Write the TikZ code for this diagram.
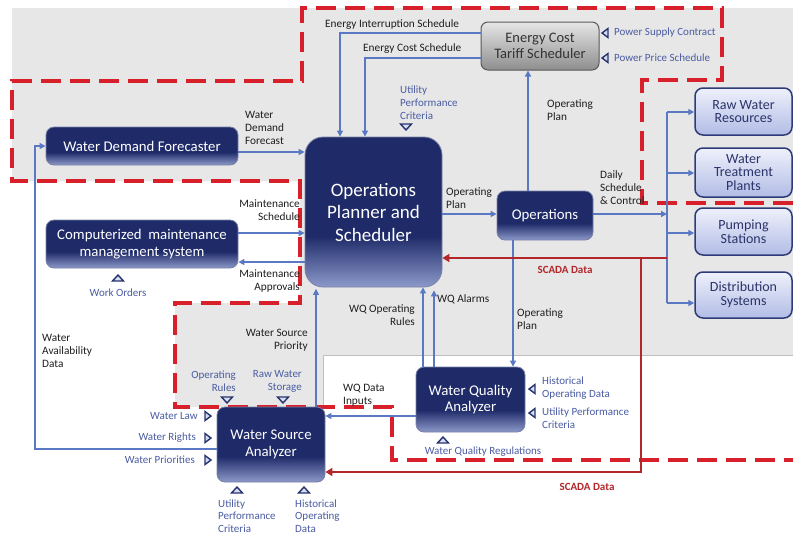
\documentclass[tikz,border=0pt]{standalone}
\usepackage{fontspec}
\setmainfont{Carlito}
\usetikzlibrary{arrows.meta}
\definecolor{bgray}{HTML}{E7E7E7}
\definecolor{navyD}{HTML}{1F2B69}
\definecolor{navyL}{HTML}{8C99C9}
\definecolor{connc}{HTML}{5A78C4}
\definecolor{rdash}{HTML}{D8202A}
\definecolor{scadac}{HTML}{B3262A}
\definecolor{lblc}{HTML}{1E1E1E}
\definecolor{inlblc}{HTML}{4A5CA3}
\definecolor{trifillc}{HTML}{D6DCF0}
\definecolor{trilinec}{HTML}{27336E}
\definecolor{lavT}{HTML}{EEF0FB}
\definecolor{lavB}{HTML}{B2BDE6}
\definecolor{lavline}{HTML}{2E3B78}
\definecolor{lavtext}{HTML}{2B3468}
\definecolor{grT}{HTML}{E6E6E6}
\definecolor{grB}{HTML}{8E8E8E}
\pgfdeclareverticalshading{navyshade}{100bp}{color(0bp)=(navyL); color(25bp)=(navyL); color(42bp)=(navyD); color(100bp)=(navyD)}
\tikzset{
  navybox/.style={rounded corners=8pt, shading=navyshade, draw=navyD!60!white, line width=0.8pt,
    text=white, align=center, font=\fontsize{14.8}{16.5}\selectfont, inner sep=2pt},
  lavbox/.style={rounded corners=8pt, top color=lavT, bottom color=lavB, draw=lavline, line width=1.5pt,
    text=lavtext, align=center, font=\fontsize{14}{13.8}\selectfont, inner sep=1pt, minimum width=97pt},
  graybox/.style={rounded corners=7pt, top color=grT, bottom color=grB, draw=black!65, line width=1pt,
    text=black!80, align=center, font=\fontsize{14.5}{16.5}\selectfont, inner sep=1pt},
  lab/.style={text=lblc, font=\fontsize{11.3}{13}\selectfont, inner sep=0pt, align=left},
  inl/.style={text=inlblc, font=\fontsize{11}{13}\selectfont, inner sep=0pt, align=left},
  scadalbl/.style={text=scadac, font=\bfseries\fontsize{11}{13}\selectfont, inner sep=0pt},
  connline/.style={draw=connc, line width=1.4pt},
  conn/.style={connline, -{Triangle[length=6pt,width=6pt]}},
  scadaline/.style={draw=scadac, line width=2.8pt, -{Triangle[length=7pt,width=8pt]}},
  reddash/.style={draw=rdash, line width=3.2pt, dash pattern=on 20pt off 9pt},
  trimark/.style={draw=trilinec, fill=trifillc, line width=1.4pt},
  triD/.pic={\draw[trimark] (-5.5,-3) -- (5.5,-3) -- (0,3) -- cycle;},
  triU/.pic={\draw[trimark] (-5.5,3) -- (5.5,3) -- (0,-3) -- cycle;},
  triL/.pic={\draw[trimark] (3,-4.5) -- (3,4.5) -- (-3,0) -- cycle;},
  triR/.pic={\draw[trimark] (-3,-4.5) -- (-3,4.5) -- (3,0) -- cycle;}
}
\begin{document}
\begin{tikzpicture}[x=1pt,y=-1pt]
\useasboundingbox (0,0) rectangle (793,536);
\fill[white] (0,0) rectangle (793,536);
% gray background
\fill[bgray] (12,8) -- (793,8) -- (793,355) -- (323,355) -- (323,407) -- (175,407) -- (175,303)
  -- (300,303) -- (300,181) -- (12,181) -- cycle;
\draw[black!25, line width=0.8pt] (793,355) -- (323,355) -- (323,407);
% red dashed boundary
\draw[reddash] (793,203) -- (642,203) -- (642,80) -- (722,80) -- (722,8) -- (302,8) -- (302,81)
  -- (12,81) -- (12,181) -- (300,181) -- (300,303) -- (175,303) -- (175,407) -- (392,407)
  -- (392,460) -- (793,460);

% boxes
\node[navybox, minimum width=192pt, minimum height=38pt] (wdf) at (142,146) {Water Demand Forecaster};
\node[navybox, minimum width=192pt, minimum height=48pt] (cmms) at (142,244) {Computerized\ \ maintenance\\management system};
\node[navybox, rounded corners=18pt, minimum width=137pt, minimum height=150pt,
  font=\fontsize{19}{22.5}\selectfont] (plan) at (373.5,212) {Operations\\Planner and\\Scheduler};
\node[graybox, minimum width=118pt, minimum height=48pt] (ecs) at (540,46) {Energy Cost\\Tariff Scheduler};
\node[navybox, minimum width=96pt, minimum height=49pt] (ops) at (545,215.5) {Operations};
\node[lavbox, minimum height=47pt] (rw) at (743.5,111.5) {Raw Water\\Resources};
\node[lavbox, minimum height=49pt] (wtp) at (743.5,172.5) {Water\\Treatment\\Plants};
\node[lavbox, minimum height=47pt] (ps) at (743.5,231.5) {Pumping\\Stations};
\node[lavbox, minimum height=46pt] (ds) at (743.5,295) {Distribution\\Systems};
\node[navybox, minimum width=109pt, minimum height=65pt] (wqa) at (470.5,399.5) {Water Quality\\Analyzer};
\node[navybox, minimum width=108pt, minimum height=75pt] (wsa) at (271,444.5) {Water Source\\Analyzer};

% connectors
\draw[conn] (ecs.west |- 0,33) -- (340,33) -- (plan.north -| 340,0);
\draw[conn] (ecs.west |- 0,58) -- (365,58) -- (plan.north -| 365,0);
\draw[conn] (ops.north -| 528,0) -- (ecs.south -| 528,0);
\draw[conn] (wdf.east |- 0,152) -- (plan.west |- 0,152);
\draw[conn] (cmms.east |- 0,233) -- (plan.west |- 0,233);
\draw[conn] (plan.west |- 0,262) -- (cmms.east |- 0,262);
\draw[conn] (plan.east |- 0,214) -- (ops.west |- 0,214);
\coordinate (bus1) at (667,112);
\coordinate (bus2) at (667,173);
\coordinate (bus3) at (667,233);
\coordinate (bus4) at (667,303);
\coordinate (busm) at (667,214);
\draw[connline] (bus1) -- (bus4);
\draw[conn] (ops.east |- busm) -- (busm);
\draw[conn] (bus1) -- (rw.west |- bus1);
\draw[conn] (bus2) -- (wtp.west |- bus2);
\draw[conn] (bus3) -- (ps.west |- bus3);
\draw[conn] (bus4) -- (ds.west |- bus4);
\draw[conn] (ops.south -| 513,0) -- (wqa.north -| 513,0);
\draw[conn] (wqa.north -| 423,0) -- (plan.south -| 423,0);
\draw[conn, shorten >=3pt] (wqa.north -| 434,0) -- (plan.south -| 434,0);
\draw[conn] (wqa.west |- 0,416) -- (wsa.east |- 0,416);
\draw[conn, shorten >=1.5pt] (wsa.north -| 316,0) -- (plan.south -| 316,0);
\draw[conn] (wsa.west |- 0,449) -- (35,449) -- (35,146) -- (wdf.west |- 0,146);
% SCADA
\coordinate (scA) at (667,258);
\coordinate (scB) at (641,258);
\draw[scadaline] (scA) -- (plan.east |- scA);
\draw[scadaline] (scB) -- (641,472) -- (wsa.east |- 0,472);

% connector labels
\node[lab, anchor=west] (l1) at (325,25) {Energy Interruption Schedule};
\node[lab, anchor=west] (l2) at (363,49) {Energy Cost Schedule};
\node[lab, anchor=west] (l3) at (547,110) {Operating\\Plan};
\node[lab, anchor=west] (l5) at (245,128) {Water\\Demand\\Forecast};
\node[lab, anchor=east, align=right] (l6) at (300,210) {Maintenance\\Schedule};
\node[lab, anchor=east, align=right] (l7) at (300,281) {Maintenance\\Approvals};
\node[lab, anchor=west] (l9) at (446,198) {Operating\\Plan};
\node[lab, anchor=west] (l10) at (600,188) {Daily\\Schedule\\\& Control};
\node[scadalbl] (l11) at (565,270) {SCADA Data};
\node[scadalbl] (l12) at (587,487) {SCADA Data};
\node[lab, anchor=west] (l13) at (517,319) {Operating\\Plan};
\node[lab, anchor=east, align=right] (l14) at (415,315) {WQ Operating\\Rules};
\node[lab, anchor=west] (l15) at (437,299) {WQ Alarms};
\node[lab, anchor=west] (l16) at (343,395) {WQ Data\\Inputs};
\node[lab, anchor=east, align=right] (l17) at (308,340) {Water Source\\Priority};
\node[lab, anchor=west] (l18) at (42,351) {Water\\Availability\\Data};

% inputs
\node[inl, anchor=west] (l4) at (400,103) {Utility\\Performance\\Criteria};
\pic at (406,127) {triD};
\node[inl, anchor=west] (p1) at (614,33) {Power Supply Contract};
\node[inl, anchor=west] (p2) at (614,58) {Power Price Schedule};
\pic at (605,33) {triL};
\pic at (605,58) {triL};
\node[inl] (l8) at (118,293) {Work Orders};
\pic at (118,278) {triU};
\node[inl, anchor=west] (q1) at (542,388) {Historical\\Operating Data};
\node[inl, anchor=west] (q2) at (542,418) {Utility Performance\\Criteria};
\pic at (532,389) {triL};
\pic at (532,413) {triL};
\node[inl] (q3) at (483,452) {Water Quality Regulations};
\pic at (443,440) {triU};
\node[inl, anchor=east, align=right] (s1) at (236,381) {Operating\\Rules};
\node[inl, anchor=east, align=right] (s2) at (302,381) {Raw Water\\Storage};
\pic at (227,400) {triD};
\pic at (283,400) {triD};
\node[inl, anchor=east] (s3) at (198,416) {Water Law};
\node[inl, anchor=east] (s4) at (196,438) {Water Rights};
\node[inl, anchor=east] (s5) at (195,460) {Water Priorities};
\pic at (208,416) {triR};
\pic at (208,438) {triR};
\pic at (208,460) {triR};
\node[inl, anchor=west, font=\fontsize{11}{12.3}\selectfont] (s6) at (218,516) {Utility\\Performance\\Criteria};
\node[inl, anchor=west, font=\fontsize{11}{12.3}\selectfont] (s7) at (295,516) {Historical\\Operating\\Data};
\pic at (237,490) {triU};
\pic at (304,490) {triU};
\end{tikzpicture}
\end{document}
